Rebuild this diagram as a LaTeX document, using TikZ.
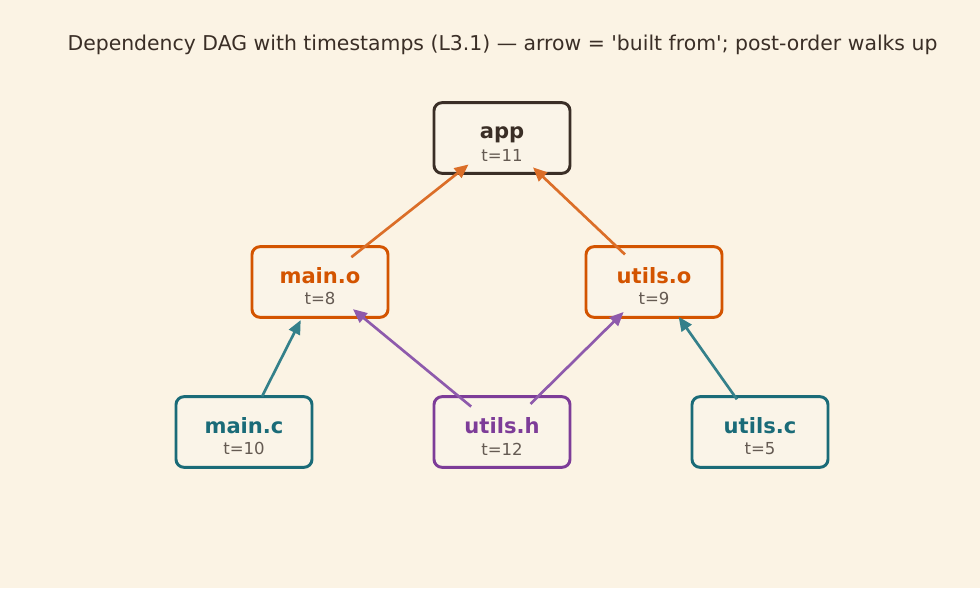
\documentclass[tikz,border=0pt]{standalone}
\usepackage{fontspec}
\setmainfont{DejaVu Sans}
\usetikzlibrary{arrows.meta,calc}
\definecolor{fondo}{RGB}{251,243,228}
\definecolor{cajafondo}{RGB}{250,244,232}
\definecolor{oscuro}{RGB}{58,46,38}
\definecolor{naranja}{RGB}{211,84,0}
\definecolor{flechanar}{RGB}{219,110,40}
\definecolor{verdeazul}{RGB}{26,107,120}
\definecolor{flechaver}{RGB}{52,128,138}
\definecolor{morado}{RGB}{125,60,152}
\definecolor{flechamor}{RGB}{142,90,172}
\definecolor{gristexto}{RGB}{100,90,82}
\newcommand{\caja}[3]{\rule{0pt}{18.5pt}\textcolor{#1}{\fontsize{15.8}{17}\selectfont\bfseries #2}\\[4pt]{\fontsize{12.4}{13}\selectfont\color{gristexto}#3}}

\begin{document}
\begin{tikzpicture}[x=0.75pt,y=-0.75pt,
    nodo/.style={draw=#1, fill=cajafondo, line width=2.2pt, rounded corners=6pt,
      minimum width=102pt, minimum height=53pt, align=center, inner sep=0pt},
    flecha/.style={draw=#1, line width=2pt, -{Triangle[length=10.5pt,width=9pt]},
      shorten <=30pt, shorten >=32pt}]
  \fill[fondo] (0,0) rectangle (980,588);
  \node[text=oscuro] (titulo) at (502.5,45) {\fontsize{15.3}{18}\selectfont Dependency DAG with timestamps (L3.1) — arrow = \textquotesingle built from\textquotesingle; post-order walks up};
  \node[nodo=oscuro] (app) at (502,138) {\caja{oscuro}{app}{t=11}};
  \node[nodo=naranja] (maino) at (320,282) {\caja{naranja}{main.o}{t=8}};
  \node[nodo=naranja] (utilso) at (654,282) {\caja{naranja}{utils.o}{t=9}};
  \node[nodo=verdeazul] (mainc) at (244,432) {\caja{verdeazul}{main.c}{t=10}};
  \node[nodo=morado] (utilsh) at (502,432) {\caja{morado}{utils.h}{t=12}};
  \node[nodo=verdeazul] (utilsc) at (760,432) {\caja{verdeazul}{utils.c}{t=5}};
  \draw[flecha=flechanar] (maino.center) -- (app.center);
  \draw[flecha=flechanar] (utilso.center) -- (app.center);
  \draw[flecha=flechaver] (mainc.center) -- (maino.center);
  \draw[flecha=flechamor] (utilsh.center) -- (maino.center);
  \draw[flecha=flechamor] (utilsh.center) -- (utilso.center);
  \draw[flecha=flechaver] (utilsc.center) -- (utilso.center);
\end{tikzpicture}
\end{document}
